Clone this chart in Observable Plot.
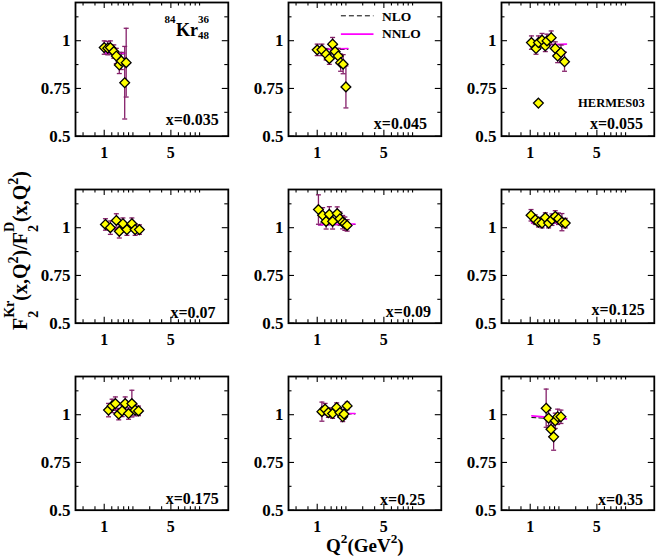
<!DOCTYPE html>
<html><head><meta charset="utf-8">
<script src="https://cdn.jsdelivr.net/npm/d3@7"></script>
<script src="https://cdn.jsdelivr.net/npm/@observablehq/plot@0.6"></script>
<style>
html,body{margin:0;padding:0;background:#fff;}
#fig{position:relative;width:657px;height:557px;overflow:hidden;font-family:"Liberation Serif","Times New Roman",serif;font-weight:bold;color:#000;}
#ylab{position:absolute;white-space:nowrap;font-size:20px;line-height:1;transform-origin:0 0;}
#xlab{position:absolute;white-space:nowrap;font-size:19px;line-height:1;}
.ss{display:inline-block;font-size:0.7em;line-height:1.7;vertical-align:-11px;text-align:left;}
.ss span{display:block;}
.sp{font-size:0.7em;line-height:0;vertical-align:9px;}
</style></head><body><div id="fig"></div>
<script>
// ---- data ----
const panelLabels = ["x=0.035","x=0.045","x=0.055","x=0.07","x=0.09","x=0.125","x=0.175","x=0.25","x=0.35"];
const Q2 = [
  [1.00,1.09,1.16,1.26,1.34,1.44,1.51,1.64,1.70],
  [1.00,1.12,1.24,1.34,1.45,1.54,1.66,1.76,1.87,2.00],
  [1.03,1.15,1.22,1.33,1.44,1.50,1.66,1.83,1.94,2.10,2.29],
  [1.03,1.16,1.34,1.44,1.57,1.73,1.95,2.11,2.34],
  [1.03,1.14,1.24,1.34,1.45,1.62,1.73,1.85,1.95,2.06],
  [1.02,1.13,1.22,1.33,1.44,1.56,1.69,1.83,1.98,2.15,2.33],
  [1.11,1.21,1.31,1.42,1.54,1.66,1.80,1.95,2.11,2.29],
  [1.12,1.21,1.31,1.45,1.60,1.73,1.85,1.91,2.06],
  [1.47,1.56,1.65,1.76,1.83,1.94,2.10]
];
const ratio = [
  [0.964,0.961,0.964,0.943,0.920,0.873,0.894,0.780,0.885],
  [0.952,0.952,0.929,0.906,0.982,0.943,0.920,0.885,0.877,0.758],
  [0.990,0.959,0.990,1.003,0.973,0.999,1.016,0.959,0.920,0.938,0.890],
  [1.017,1.000,1.038,0.981,1.021,0.990,1.021,0.990,0.990],
  [1.095,1.065,1.033,1.070,1.033,1.074,1.047,1.029,1.021,1.012],
  [1.065,1.042,1.029,1.024,1.053,1.024,1.042,1.059,1.047,1.029,1.024],
  [1.024,1.046,1.058,1.003,1.020,1.058,1.006,1.058,1.024,1.020],
  [1.016,1.029,1.011,1.006,1.037,1.011,0.989,1.003,1.046],
  [1.034,0.982,0.924,0.884,0.968,0.989,0.989]
];
const errs = [
  [0.035,0.035,0.035,0.035,0.04,0.045,0.045,0.19,0.18],
  [0.03,0.03,0.03,0.03,0.035,0.035,0.04,0.045,0.05,0.11],
  [0.035,0.03,0.035,0.035,0.03,0.035,0.035,0.035,0.035,0.04,0.05],
  [0.03,0.035,0.035,0.035,0.03,0.03,0.03,0.03,0.025],
  [0.077,0.04,0.04,0.04,0.04,0.035,0.035,0.035,0.035,0.03],
  [0.03,0.025,0.025,0.025,0.025,0.025,0.03,0.03,0.03,0.045,0.025],
  [0.035,0.035,0.035,0.03,0.03,0.035,0.03,0.07,0.03,0.025],
  [0.05,0.03,0.025,0.025,0.025,0.025,0.025,0.025,0.02],
  [0.1,0.04,0.04,0.07,0.04,0.04,0.035]
];
const theoryQ2 = [[1.03,1.65],[1.05,2.1],[1.04,2.4],[1.05,2.5],[1.03,2.49],[1.03,2.4],[1.05,2.5],[1.05,2.49],[1.04,2.4]];
const nnlo = [[0.935,0.935],[0.955,0.959],[0.976,0.982],[0.995,0.995],[1.016,1.019],[1.026,1.026],[1.024,1.024],[1.006,1.006],[0.994,0.978]];
const nlo  = [[0.932,0.930],[0.952,0.955],[0.974,0.979],[0.993,0.993],[1.014,1.017],[1.024,1.024],[1.022,1.022],[1.004,1.004],[0.985,0.976]];
const xTicksMajor = [1,5];
const xTicksMinor = [0.6,0.8,1.2,1.4,1.6,1.8,2,3,4,6,7,8,9,10];
const yTicksMajor = [0.5,0.75,1];
const yTicksMinor = [0.625,0.875,1.125];
const xDomain = [0.5,20], yDomain = [0.5,1.2];

// ---- layout ----
const colLeft = [75, 288.3, 500.8], rowTop = [1.7, 189.2, 375.7];
const PW = 152.8, PH = 133.7, ML = 62, MR = 8, MT = 4, MB = 36;
const labelOffset = [[9.5,11.3],[14.4,7.3],[11.3,7.3],[12.8,4.8],[10.4,6.1],[9.6,7.8],[9.5,6.6],[16.1,5.3],[11.3,5.3]];
const ERR = "#85206a";
const cap = {draw(ctx){ctx.moveTo(-2.5,0);ctx.lineTo(2.5,0);}};
const seg = {draw(ctx){ctx.moveTo(-16.3,0);ctx.lineTo(16.3,0);}};
const fig = document.getElementById("fig");

for (let i = 0; i < 9; i++) {
  const col = i % 3, row = Math.floor(i / 3);
  const pts = Q2[i].map((q, j) => ({q, v: ratio[i][j], e: errs[i][j]}));
  const th = theoryQ2[i].map((q, j) => ({q, nlo: nlo[i][j], nnlo: nnlo[i][j]}));
  const marks = [
    Plot.tickX(xTicksMajor, {x: d => d, insetTop: PH - 6, stroke: "black", strokeWidth: 1.1}),
    Plot.tickX(xTicksMinor, {x: d => d, insetTop: PH - 3.5, stroke: "black", strokeWidth: 1.1}),
    Plot.tickX(xTicksMajor, {x: d => d, insetBottom: PH - 6, stroke: "black", strokeWidth: 1.1}),
    Plot.tickX(xTicksMinor, {x: d => d, insetBottom: PH - 3.5, stroke: "black", strokeWidth: 1.1}),
    Plot.tickY(yTicksMajor, {y: d => d, insetRight: PW - 6, stroke: "black", strokeWidth: 1.1}),
    Plot.tickY(yTicksMinor, {y: d => d, insetRight: PW - 3.5, stroke: "black", strokeWidth: 1.1}),
    Plot.tickY(yTicksMajor, {y: d => d, insetLeft: PW - 6, stroke: "black", strokeWidth: 1.1}),
    Plot.tickY(yTicksMinor, {y: d => d, insetLeft: PW - 3.5, stroke: "black", strokeWidth: 1.1}),
    Plot.line(th, {x: "q", y: "nlo", stroke: "black", strokeWidth: 1, strokeDasharray: "4,3"}),
    Plot.line(th, {x: "q", y: "nnlo", stroke: "#ff00ff", strokeWidth: 1.6}),
    Plot.ruleX(pts, {x: "q", y1: d => d.v - d.e, y2: d => d.v + d.e, stroke: ERR, strokeWidth: 1.3}),
    Plot.dot(pts, {x: "q", y: d => d.v + d.e, symbol: cap, fill: "none", stroke: ERR, strokeWidth: 1.3}),
    Plot.dot(pts, {x: "q", y: d => d.v - d.e, symbol: cap, fill: "none", stroke: ERR, strokeWidth: 1.3}),
    Plot.dot(pts, {x: "q", y: "v", symbol: "diamond2", r: 4.4, fill: "#ffff00", stroke: "black", strokeWidth: 1.3}),
    Plot.text([panelLabels[i]], {frameAnchor: "bottom-right", textAnchor: "end", lineAnchor: "bottom",
      dx: -labelOffset[i][0], dy: -labelOffset[i][1], fontSize: 16, fontWeight: "bold"}),
    Plot.frame({stroke: "black", strokeWidth: 1.8}),
    Plot.axisX({ticks: [1, 5], tickSize: 0, tickPadding: 10, label: null, fontSize: 16, fontWeight: "bold", tickFormat: d => String(d)}),
    Plot.axisY({ticks: yTicksMajor, tickSize: 0, tickPadding: 5, label: null, fontSize: 17, fontWeight: "bold", tickFormat: d => String(d)})
  ];
  if (i === 0) {
    marks.push(
      Plot.text(["84"], {frameAnchor: "top-left", dx: 89, dy: 17.3, textAnchor: "start", lineAnchor: "middle", fontSize: 11, fontWeight: "bold"}),
      Plot.text(["Kr"], {frameAnchor: "top-left", dx: 100.5, dy: 27.5, textAnchor: "start", lineAnchor: "middle", fontSize: 18, fontWeight: "bold"}),
      Plot.text(["36"], {frameAnchor: "top-left", dx: 122.5, dy: 16.6, textAnchor: "start", lineAnchor: "middle", fontSize: 11, fontWeight: "bold"}),
      Plot.text(["48"], {frameAnchor: "top-left", dx: 122.5, dy: 33.3, textAnchor: "start", lineAnchor: "middle", fontSize: 11, fontWeight: "bold"})
    );
  }
  if (i === 1) {
    marks.push(
      Plot.dot([0], {frameAnchor: "top-left", dx: 68.7, dy: 13.3, symbol: seg, fill: "none", stroke: "black", strokeWidth: 1, strokeDasharray: "5,3"}),
      Plot.dot([0], {frameAnchor: "top-left", dx: 68.7, dy: 31.6, symbol: seg, fill: "none", stroke: "#ff00ff", strokeWidth: 1.6}),
      Plot.text(["NLO"], {frameAnchor: "top-left", dx: 93.4, dy: 14, textAnchor: "start", lineAnchor: "middle", fontSize: 13.5, fontWeight: "bold"}),
      Plot.text(["NNLO"], {frameAnchor: "top-left", dx: 93.4, dy: 31.2, textAnchor: "start", lineAnchor: "middle", fontSize: 13.5, fontWeight: "bold"})
    );
  }
  if (i === 2) {
    marks.push(
      Plot.dot([0], {frameAnchor: "top-left", dx: 36.9, dy: 100.6, symbol: "diamond2", r: 4.4, fill: "#ffff00", stroke: "black", strokeWidth: 1.3}),
      Plot.text(["HERMES03"], {frameAnchor: "top-right", dx: -9.6, dy: 100.8, textAnchor: "end", lineAnchor: "middle", fontSize: 12.5, fontWeight: "bold"})
    );
  }
  const svg = Plot.plot({
    width: ML + PW + MR, height: MT + PH + MB,
    marginLeft: ML, marginRight: MR, marginTop: MT, marginBottom: MB,
    x: {type: "log", domain: xDomain},
    y: {domain: yDomain},
    style: {background: "transparent", overflow: "visible", fontFamily: "'Liberation Serif', 'Times New Roman', serif", fontWeight: "bold", color: "black"},
    marks
  });
  svg.style.position = "absolute";
  svg.style.left = (colLeft[col] - ML) + "px";
  svg.style.top = (rowTop[row] - MT) + "px";
  svg.style.maxWidth = "none";
  fig.appendChild(svg);
}

// axis titles
const ylab = document.createElement("div");
ylab.id = "ylab";
ylab.innerHTML = 'F<span class="ss"><span>Kr</span><span>2</span></span>(x,Q<span class="sp">2</span>)/F<span class="ss"><span>D</span><span>2</span></span>(x,Q<span class="sp">2</span>)';
fig.appendChild(ylab);
const yw = ylab.offsetWidth;
ylab.style.left = "-2px";
ylab.style.top = (250 + yw / 2) + "px";
ylab.style.transform = "rotate(-90deg)";

const xlab = document.createElement("div");
xlab.id = "xlab";
xlab.innerHTML = 'Q<span class="sp">2</span>(GeV<span class="sp">2</span>)';
fig.appendChild(xlab);
xlab.style.left = (365 - xlab.offsetWidth / 2) + "px";
xlab.style.top = "536px";
</script></body></html>
